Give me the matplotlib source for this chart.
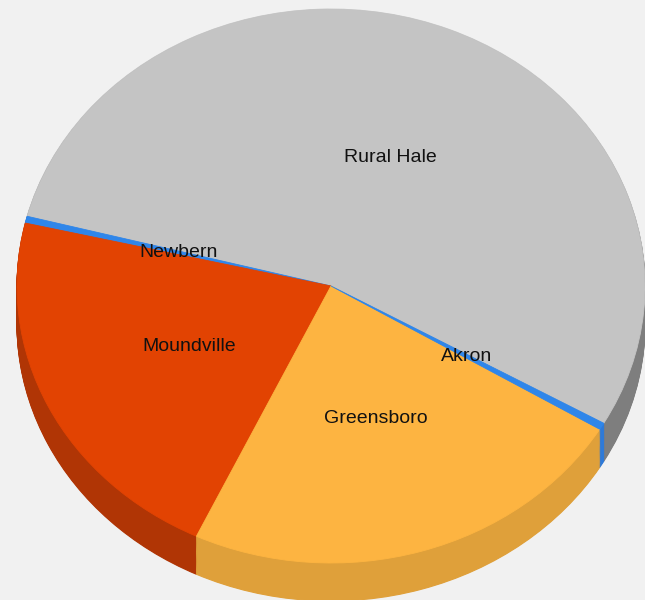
import matplotlib
matplotlib.use("Agg")
import matplotlib.pyplot as plt
import numpy as np

# Data
categories = ["Rural Hale", "Newbern", "Moundville", "Greensboro", "Akron"]
values = [54.2, 0.4, 21.6, 23.4, 0.4]
top_colors = ["#C4C4C4", "#2F86EA", "#E24302", "#FDB441", "#2F86EA"]
side_colors = ["#7E7E7E", "#1F5FB0", "#B03505", "#DFA03A", "#2F7AD8"]

W, H = 645, 600
fig = plt.figure(figsize=(W / 100, H / 100), dpi=100)
fig.patch.set_facecolor("#F1F1F1")
ax = fig.add_axes([0, 0, 1, 1])
ax.set_facecolor("#F1F1F1")

# Ellipse geometry in pixels
cx, cy, rx, ry, depth = 331, 286, 314, 277, 38
start = 330.3

# Side layers
for d in np.linspace(depth, 1, 40):
    wedges, _ = ax.pie(values, colors=side_colors, startangle=start,
                       counterclock=True, center=(0, -d / ry), radius=1,
                       wedgeprops=dict(linewidth=0.8, antialiased=True),
                       frame=True)
    for w, c in zip(wedges, side_colors):
        w.set_edgecolor(c)

# Top surface
wedges, texts = ax.pie(values, colors=top_colors, startangle=start,
                       counterclock=True, center=(0, 0), radius=1,
                       labels=categories, labeldistance=0.5,
                       wedgeprops=dict(linewidth=0.6), frame=True,
                       textprops=dict(fontsize=14, family="Liberation Sans",
                                      color="#111111"))
for w, c in zip(wedges, top_colors):
    w.set_edgecolor(c)
for t in texts:
    t.set_ha("center")
    t.set_va("center")

ax.set_xlim(-cx / rx, (W - cx) / rx)
ax.set_ylim(-(H - cy) / ry, cy / ry)
ax.set_aspect("auto")
ax.axis("off")

fig.savefig("out.png", dpi=100, facecolor=fig.get_facecolor())
